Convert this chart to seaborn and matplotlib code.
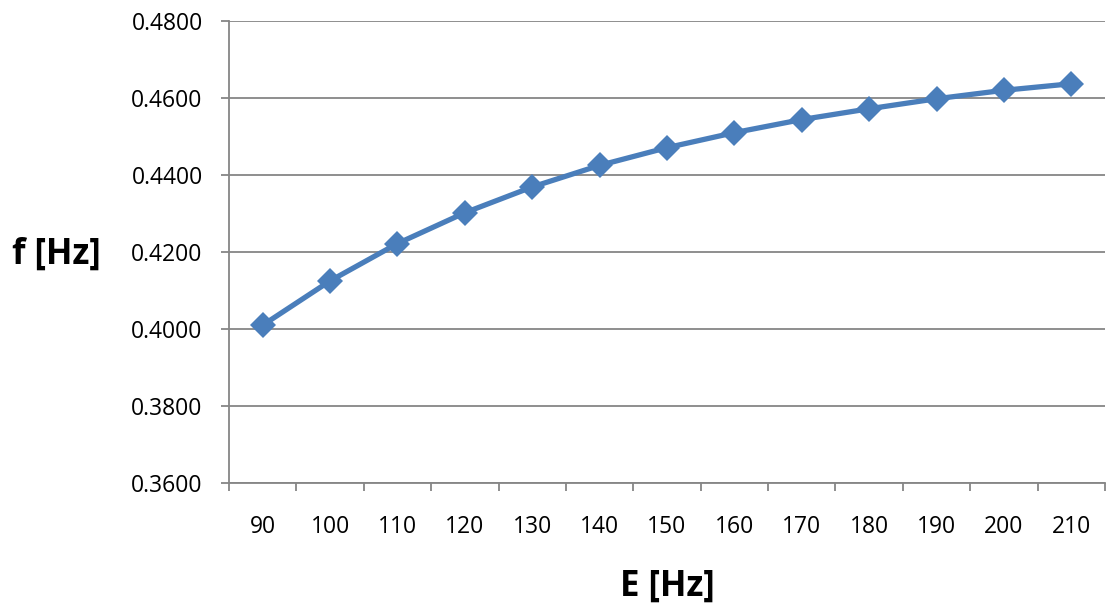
import matplotlib
matplotlib.use("Agg")
import matplotlib.pyplot as plt
import seaborn as sns
import numpy as np
import pandas as pd

E_values = [90, 100, 110, 120, 130, 140, 150, 160, 170, 180, 190, 200, 210]
f_values = [0.4010, 0.4125, 0.4222, 0.4302, 0.4369, 0.4425, 0.4471,
            0.4510, 0.4544, 0.4572, 0.4598, 0.4620, 0.4637]
y_ticks = [0.36, 0.38, 0.40, 0.42, 0.44, 0.46, 0.48]

df = pd.DataFrame({"E": [str(e) for e in E_values], "f": f_values})

sns.set_style("white")
plt.rcParams['font.family'] = ['Open Sans', 'DejaVu Sans']
plt.rcParams['text.color'] = 'black'
plt.rcParams['xtick.color'] = 'black'
plt.rcParams['ytick.color'] = 'black'

fig = plt.figure(figsize=(11.08, 6.10), dpi=100)
ax = fig.add_axes([0.2067, 0.2082, 0.7906, 0.7574])

blue = "#4A7EBB"
grid_c = "#868686"

sns.pointplot(data=df, x="E", y="f", color=blue, markers="D",
              linestyles="-", ax=ax, errorbar=None)
for ln in ax.lines:
    ln.set_linewidth(3.8)
    ln.set_markersize(13)
    ln.set_markeredgewidth(0)
    ln.set_zorder(3)
for c in ax.collections:
    c.set_sizes([230])
    c.set_linewidth(0)
    c.set_zorder(4)

for yt in y_ticks:
    ax.axhline(yt, color=grid_c, lw=1.3, zorder=0)

n = len(E_values)
ax.set_xlim(-0.5, n - 0.5)
ax.set_ylim(0.36, 0.48)
ax.set_yticks(y_ticks)
ax.set_yticklabels([f"{v:.4f}" for v in y_ticks], fontsize=16.5)
ax.set_xticks(range(n))
ax.set_xticklabels([str(e) for e in E_values], fontsize=16.5)
ax.set_xticks(np.arange(-0.5, n, 1.0), minor=True)
ax.tick_params(axis='x', which='both', bottom=True)
ax.tick_params(axis='x', which='major', length=0, pad=23)
ax.tick_params(axis='x', which='minor', length=6, width=1.3, color=grid_c, direction='out')
ax.tick_params(axis='y', which='major', left=True, length=6, width=1.3, color=grid_c,
               direction='out', pad=13)

for s in ["top", "right"]:
    ax.spines[s].set_visible(False)
for s in ["left", "bottom"]:
    ax.spines[s].set_color(grid_c)
    ax.spines[s].set_linewidth(1.3)

ax.set_xlabel("")
ax.set_ylabel("")
fig.text(0.0505, 0.582, "f [Hz]", fontsize=25, fontweight="bold",
         ha="center", va="center")
fig.text(0.602, 0.0377, "E [Hz]", fontsize=25, fontweight="bold",
         ha="center", va="center")

fig.savefig("out.png", dpi=100)
